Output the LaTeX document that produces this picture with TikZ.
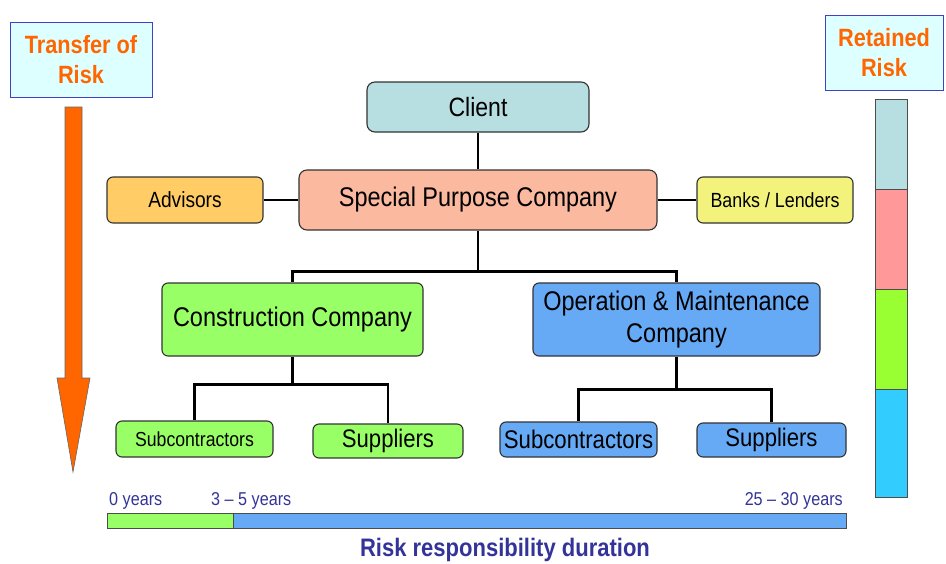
\documentclass[tikz,border=0pt]{standalone}
\usepackage{fontspec}
\setmainfont[FakeStretch=0.87]{Liberation Sans}
\usepackage{tikz}
\usetikzlibrary{calc}
\definecolor{riskOrange}{HTML}{FF6600}
\definecolor{riskNavy}{HTML}{333399}
\definecolor{riskFrame}{HTML}{4040C8}
\definecolor{riskPale}{HTML}{DDFFFF}
\definecolor{clientTeal}{HTML}{B7DEE0}
\definecolor{spcSalmon}{HTML}{FBB9A0}
\definecolor{advisorGold}{HTML}{FFCC66}
\definecolor{bankYellow}{HTML}{F2F27C}
\definecolor{buildGreen}{HTML}{99FF66}
\definecolor{operBlue}{HTML}{66AAF6}
\definecolor{barPink}{HTML}{FF9999}
\definecolor{barGreen}{HTML}{99FF33}
\definecolor{barCyan}{HTML}{33CCFF}
\tikzset{
  orgbox/.style={draw=black!80, line width=1.1pt, rounded corners=8pt, align=center, inner sep=0pt, text=black},
  clientbox/.style={orgbox, fill=clientTeal, font=\fontsize{26.5}{31}\selectfont},
  spcbox/.style={orgbox, fill=spcSalmon, font=\fontsize{27}{32}\selectfont},
  sidebox/.style={orgbox, rounded corners=6pt},
  greenbox/.style={orgbox, fill=buildGreen, rounded corners=6pt},
  bluebox/.style={orgbox, fill=operBlue, rounded corners=6pt},
  riskhead/.style={draw=riskFrame, line width=0.8pt, fill=riskPale, text=riskOrange, align=center, inner sep=0pt, font=\bfseries\fontsize{25}{30}\selectfont},
  link/.style={line width=2.8pt, draw=black},
  yearlabel/.style={text=riskNavy, inner sep=0pt, font=\fontsize{18.6}{22}\selectfont},
  barseg/.style={draw=black!70, line width=0.8pt}
}

\begin{document}
\begin{tikzpicture}[x=1pt, y=-1pt]
    \useasboundingbox (0,0) rectangle (946,563);
    % risk headers
    \node[riskhead, minimum width=142pt, minimum height=75pt] (transfer) at (81,59.5) {Transfer of\\Risk};
    \node[riskhead, minimum width=118pt, minimum height=75pt] (retained) at (884,52.5) {Retained\\Risk};
    % transfer arrow
    \fill[riskOrange, draw=black!60, line width=0.6pt]
      (65,107) -- (82,107) -- (82,378) -- (90,378) -- (73,472) -- (57,378) -- (65,378) -- cycle;
    % retained bar
    \filldraw[barseg, fill=clientTeal] (875,99) rectangle (907,189);
    \filldraw[barseg, fill=barPink] (875,189) rectangle (907,289);
    \filldraw[barseg, fill=barGreen] (875,289) rectangle (907,389);
    \filldraw[barseg, fill=barCyan] (875,389) rectangle (907,497);
    % organisation
    \node[clientbox, minimum width=222pt, minimum height=50pt] (client) at (478,107) {Client};
    \node[spcbox, minimum width=358pt, minimum height=60pt] (spc) at (478,200) {Special Purpose Company};
    \node[sidebox, fill=advisorGold, minimum width=156pt, minimum height=46pt, font=\fontsize{22}{26}\selectfont] (advisors) at (185,200) {Advisors};
    \node[sidebox, fill=bankYellow, minimum width=156pt, minimum height=46pt, font=\fontsize{20.5}{24}\selectfont] (banks) at (775,200) {Banks / Lenders};
    \node[greenbox, minimum width=261pt, minimum height=73pt, font=\fontsize{27}{32}\selectfont] (build) at (292.5,319.5) {Construction Company};
    \node[bluebox, minimum width=287pt, minimum height=73pt, font=\fontsize{27}{32.5}\selectfont] (oper) at (676.5,319.5) {Operation \& Maintenance\\Company};
    \node[greenbox, minimum width=157pt, minimum height=36pt, font=\fontsize{20.3}{24}\selectfont] (buildsub) at (194.5,439) {Subcontractors};
    \node[greenbox, minimum width=150pt, minimum height=34pt, font=\fontsize{25.4}{30}\selectfont] (buildsup) at (388,441) {Suppliers};
    \node[bluebox, minimum width=157pt, minimum height=35pt, font=\fontsize{25.5}{30}\selectfont] (opersub) at (578.5,439.5) {Subcontractors};
    \node[bluebox, minimum width=149pt, minimum height=34pt, font=\fontsize{25.4}{30}\selectfont] (opersup) at (771.5,440) {Suppliers};
    % connectors
    \draw[link] (client.south) -- (spc.north);
    \draw[link] (advisors.east) -- (spc.west);
    \draw[link] (spc.east) -- (banks.west);
    \draw[link] (spc.south) -- ++(0,41);
    \draw[link] (build.north) |- ($(spc.south)+(0,41)$) -| (oper.north);
    \draw[link] (build.south) -- ++(0,28);
    \draw[link] (buildsub.north) |- ($(build.south)+(0,28)$) -| (buildsup.north);
    \draw[link] (oper.south) -- ++(0,33);
    \draw[link] (opersub.north) |- ($(oper.south)+(0,33)$) -| (opersup.north);
    % duration bar
    \filldraw[barseg, fill=buildGreen] (107,513) rectangle (233,528);
    \filldraw[barseg, fill=operBlue] (233,513) rectangle (846,528);
    \node[yearlabel, anchor=west] (start) at (109,501) {0 years};
    \node[yearlabel, anchor=west] (handover) at (211,501) {3 -- 5 years};
    \node[yearlabel, anchor=east] (finish) at (843,501) {25 -- 30 years};
    \node[text=riskNavy, inner sep=0pt, font=\bfseries\fontsize{25.3}{30}\selectfont] (duration) at (505,550) {Risk responsibility duration};
  \end{tikzpicture}
\end{document}
